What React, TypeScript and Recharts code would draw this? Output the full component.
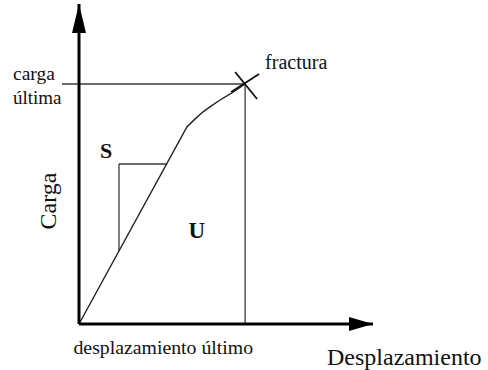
import { LineChart, Line, XAxis, YAxis, ReferenceLine, ReferenceDot } from 'recharts';

// load-displacement curve (arbitrary units, 0-100 on both axes)
const displacement = [0, 36.7, 39.5, 42.2, 44.9, 48.0, 52.0, 56.5];
const load = [0, 61.6, 64.1, 66.3, 68.1, 70.0, 72.2, 75.0];

const ultimateDisp = 56.5;
const ultimateLoad = 75;

// stiffness triangle on the linear branch
const slopeLegX = [13.6, 29.8];
const slopeLegY = [22.8, 50];

// where the "U" (energy) label sits
const energyLabelAt = [40.1, 26.9];

const data = displacement.map((x, i) => ({ x, y: load[i] }));

const SERIF = '"Liberation Serif", "DejaVu Serif", serif';
const INK = '#111';
const THIN = '#3a3a3a';

const serif = (size: number, bold = false) => ({
  fontFamily: SERIF,
  fontSize: size,
  fontWeight: bold ? 700 : 400,
  fill: INK,
});

function LoadTick(props: any) {
  const { y } = props;
  return (
    <g>
      <text x={13} y={y - 4} style={serif(19.5)}>carga</text>
      <text x={13} y={y + 20} style={serif(19)}>última</text>
    </g>
  );
}

function DispTick(props: any) {
  const { x } = props;
  return (
    <text x={x + 8} y={354} textAnchor='end' style={serif(19.8)}>
      desplazamiento último
    </text>
  );
}

function LoadTitle() {
  return (
    <text x={56} y={201} transform='rotate(-90 56 201)' textAnchor='middle' style={serif(24)}>
      Carga
    </text>
  );
}

function DispTitle() {
  return (
    <text x={327} y={365} style={serif(24)}>
      Desplazamiento
    </text>
  );
}

const UpArrow = ({ cx, cy }: any) => (
  <polygon points={`${cx},${cy} ${cx - 7},${cy + 29} ${cx + 7},${cy + 29}`} fill='#000' />
);

const RightArrow = ({ cx, cy }: any) => (
  <polygon points={`${cx},${cy} ${cx - 24},${cy - 7} ${cx - 24},${cy + 7}`} fill='#000' />
);

const FractureMark = ({ cx, cy }: any) => (
  <g>
    <line x1={cx - 10} y1={cy - 12} x2={cx + 12} y2={cy + 15} stroke='#111' strokeWidth={1.8} />
    <line x1={cx - 14} y1={cy + 8} x2={cx + 14} y2={cy - 10} stroke='#111' strokeWidth={1.8} />
    <text x={cx + 20} y={cy - 15} style={serif(20)}>
      fractura
    </text>
  </g>
);

const StiffnessLabel = ({ cx, cy }: any) => (
  <text x={cx - 19} y={cy - 6} style={serif(22, true)}>
    S
  </text>
);

const EnergyLabel = ({ cx, cy }: any) => (
  <text x={cx} y={cy} textAnchor='middle' style={serif(23, true)}>
    U
  </text>
);

export default function App() {
  return (
    <div style={{ position: 'absolute', left: 0, top: 0, background: '#fff' }}>
      <LineChart
        width={488}
        height={370}
        data={data}
        margin={{ top: 4, right: 115, bottom: 0, left: 0 }}
      >
        <XAxis
          type='number'
          dataKey='x'
          domain={[0, 100]}
          ticks={[ultimateDisp]}
          tickLine={false}
          axisLine={{ stroke: '#000', strokeWidth: 3 }}
          height={46}
          tick={<DispTick />}
          label={<DispTitle />}
        />
        <YAxis
          type='number'
          domain={[0, 100]}
          ticks={[ultimateLoad]}
          tickLine={false}
          axisLine={{ stroke: '#000', strokeWidth: 3 }}
          width={79}
          tick={<LoadTick />}
          label={<LoadTitle />}
        />
        <ReferenceLine
          segment={[
            { x: -5.8, y: ultimateLoad },
            { x: ultimateDisp, y: ultimateLoad },
          ]}
          stroke={THIN}
          strokeWidth={1.3}
          ifOverflow='visible'
        />
        <ReferenceLine
          segment={[
            { x: ultimateDisp, y: 0 },
            { x: ultimateDisp, y: ultimateLoad },
          ]}
          stroke={THIN}
          strokeWidth={1.3}
        />
        <ReferenceLine
          segment={[
            { x: slopeLegX[0], y: slopeLegY[1] },
            { x: slopeLegX[1], y: slopeLegY[1] },
          ]}
          stroke={THIN}
          strokeWidth={1.3}
        />
        <ReferenceLine
          segment={[
            { x: slopeLegX[0], y: slopeLegY[0] },
            { x: slopeLegX[0], y: slopeLegY[1] },
          ]}
          stroke={THIN}
          strokeWidth={1.3}
        />
        <Line
          type='linear'
          dataKey='y'
          stroke='#222'
          strokeWidth={1.4}
          dot={false}
          isAnimationActive={false}
        />
        <ReferenceDot x={0} y={100} shape={UpArrow} />
        <ReferenceDot x={100} y={0} shape={RightArrow} />
        <ReferenceDot x={ultimateDisp} y={ultimateLoad} shape={FractureMark} />
        <ReferenceDot x={slopeLegX[0]} y={slopeLegY[1]} shape={StiffnessLabel} />
        <ReferenceDot x={energyLabelAt[0]} y={energyLabelAt[1]} shape={EnergyLabel} />
      </LineChart>
    </div>
  );
}
